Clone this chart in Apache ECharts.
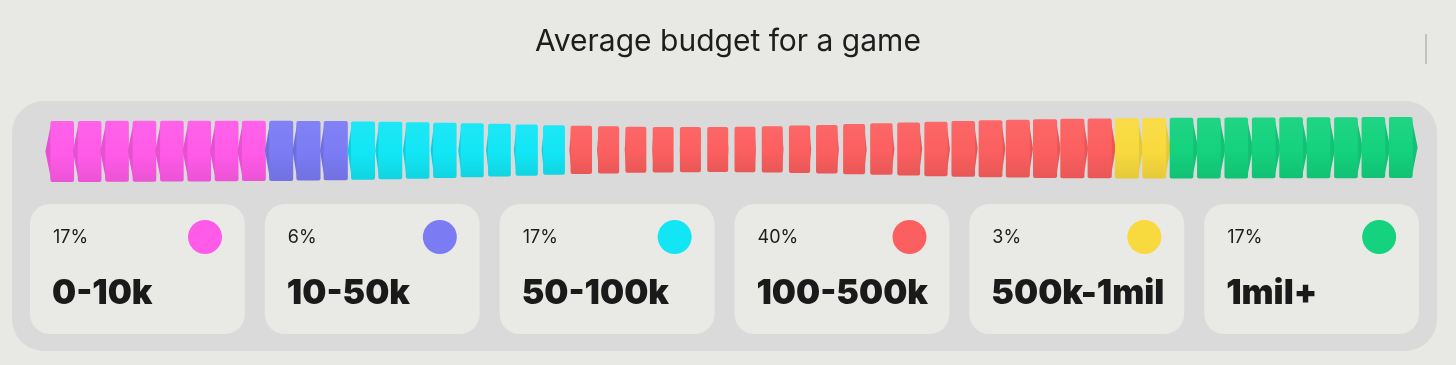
<!DOCTYPE html>
<html><head><meta charset="utf-8">
<script src="https://cdn.jsdelivr.net/npm/echarts@6/dist/echarts.min.js"></script>
<style>html,body{margin:0;padding:0;background:#e8e8e4;}#c{width:1456px;height:365px;}</style>
</head><body><div id="c"></div>
<script>
// ---- data ----
const title = 'Average budget for a game';
const categories = ['0-10k', '10-50k', '50-100k', '100-500k', '500k-1mil', '1mil+'];
const percents = [17, 6, 17, 40, 3, 17];
const blockCounts = [8, 3, 8, 20, 2, 9];   // blocks drawn in the strip, one per category colour
const colors = ['#ff5ae8', '#7b7bf4', '#12e6f5', '#fc5f5f', '#f9da3e', '#14d27e'];

// ---- build series data ----
const blocks = [];
categories.forEach((c, ci) => {
  for (let k = 0; k < blockCounts[ci]; k++) blocks.push([blocks.length, 0.5, ci]);
});
const nBlocks = blocks.length;
const blockAxis = blocks.map((b, i) => String(i));
const cardData = categories.map((c, i) => [i, 0.5, percents[i]]);

function shade(hex, f) {
  const n = parseInt(hex.slice(1), 16);
  let r = (n >> 16) & 255, g = (n >> 8) & 255, b = n & 255;
  if (f < 0) { r = r * (1 + f); g = g * (1 + f); b = b * (1 + f); }
  else { r = r + (255 - r) * f; g = g + (255 - g) * f; b = b + (255 - b) * f; }
  return 'rgb(' + Math.round(r) + ',' + Math.round(g) + ',' + Math.round(b) + ')';
}

function renderBlock(params, api) {
  const i = api.value(0), ci = api.value(2);
  const c = api.coord([i, api.value(1)]);
  const cx = c[0];
  const d = cx - 700;                       // perspective centre
  const h = 61 - 16 * Math.exp(-Math.pow(d / 250, 2));
  const w = h * 0.47;
  const cy = c[1] + 1.5 - 4 * (i / (nBlocks - 1));
  const top = cy - h / 2, bot = cy + h / 2;
  const side = Math.min(5, Math.abs(d) / 100);
  const col = colors[ci];
  const x0 = cx - w / 2, x1 = cx + w / 2;
  const children = [];
  let fx, fw;
  if (d < 0) {
    children.push({ type: 'polygon', shape: { points: [[x0, cy], [x0 + side + 1, top + 1], [x0 + side + 1, bot - 1]] },
      style: { fill: shade(col, -0.1) } });
    fx = x0 + side; fw = w - side;
  } else {
    children.push({ type: 'polygon', shape: { points: [[x1, cy], [x1 - side - 1, top + 1], [x1 - side - 1, bot - 1]] },
      style: { fill: shade(col, -0.08) } });
    fx = x0; fw = w - side;
  }
  children.push({ type: 'rect', shape: { x: fx, y: top, width: fw, height: h, r: 2 },
    style: { fill: new echarts.graphic.LinearGradient(0, 0, 0, 1, [
      { offset: 0, color: shade(col, 0.05) },
      { offset: 0.55, color: col },
      { offset: 1, color: shade(col, -0.08) }]) } });
  return { type: 'group', children: children };
}

function renderCard(params, api) {
  const ci = api.value(0);
  const band = api.size([1, 0])[0];
  const t = api.coord([ci, 1]);
  const b = api.coord([ci, 0]);
  const x = t[0] - band / 2 + 10, y = t[1];
  const w = band - 20, h = b[1] - t[1];
  return { type: 'group', children: [
    { type: 'rect', shape: { x: x, y: y, width: w, height: h, r: 20 }, style: { fill: '#e9e9e6' } },
    { type: 'text', x: x + 23, y: y + 34, style: { text: api.value(2) + '%', fill: '#1c1c1c',
      font: '400 18px Inter', verticalAlign: 'middle', align: 'left' } },
    { type: 'circle', shape: { cx: x + 175, cy: y + 33, r: 17 }, style: { fill: colors[ci] } },
    { type: 'text', x: x + 22, y: y + 90, style: { text: categories[ci], fill: '#1a1a1a',
      font: '900 34px Inter', verticalAlign: 'middle', align: 'left' } }
  ] };
}

const chart = echarts.init(document.getElementById('c'), null, { renderer: 'canvas' });
chart.setOption({
  animation: false,
  backgroundColor: '#e8e8e4',
  title: { text: title, left: 'center', top: 22,
    textStyle: { fontFamily: 'Inter', fontWeight: 400, fontSize: 30, color: '#1d1d1d' } },
  graphic: [
    { type: 'rect', z: -1, shape: { x: 12, y: 101, width: 1425, height: 250, r: 32 }, style: { fill: '#dadada' } },
    { type: 'line', shape: { x1: 1426, y1: 34, x2: 1426, y2: 64 }, style: { stroke: '#b5b5b5', lineWidth: 1.5 } }
  ],
  grid: [
    { left: 46, right: 39, top: 100, height: 100 },
    { left: 20, right: 27, top: 204, height: 130 }
  ],
  xAxis: [
    { type: 'category', gridIndex: 0, data: blockAxis, show: false },
    { type: 'category', gridIndex: 1, data: categories, show: false }
  ],
  yAxis: [
    { type: 'value', gridIndex: 0, min: 0, max: 1, show: false },
    { type: 'value', gridIndex: 1, min: 0, max: 1, show: false }
  ],
  series: [
    { type: 'custom', xAxisIndex: 0, yAxisIndex: 0, renderItem: renderBlock, data: blocks,
      encode: { x: 0, y: 1 }, clip: false, silent: true },
    { type: 'custom', xAxisIndex: 1, yAxisIndex: 1, renderItem: renderCard, data: cardData,
      encode: { x: 0, y: 1 }, clip: false, silent: true }
  ]
});
</script>
</body></html>
